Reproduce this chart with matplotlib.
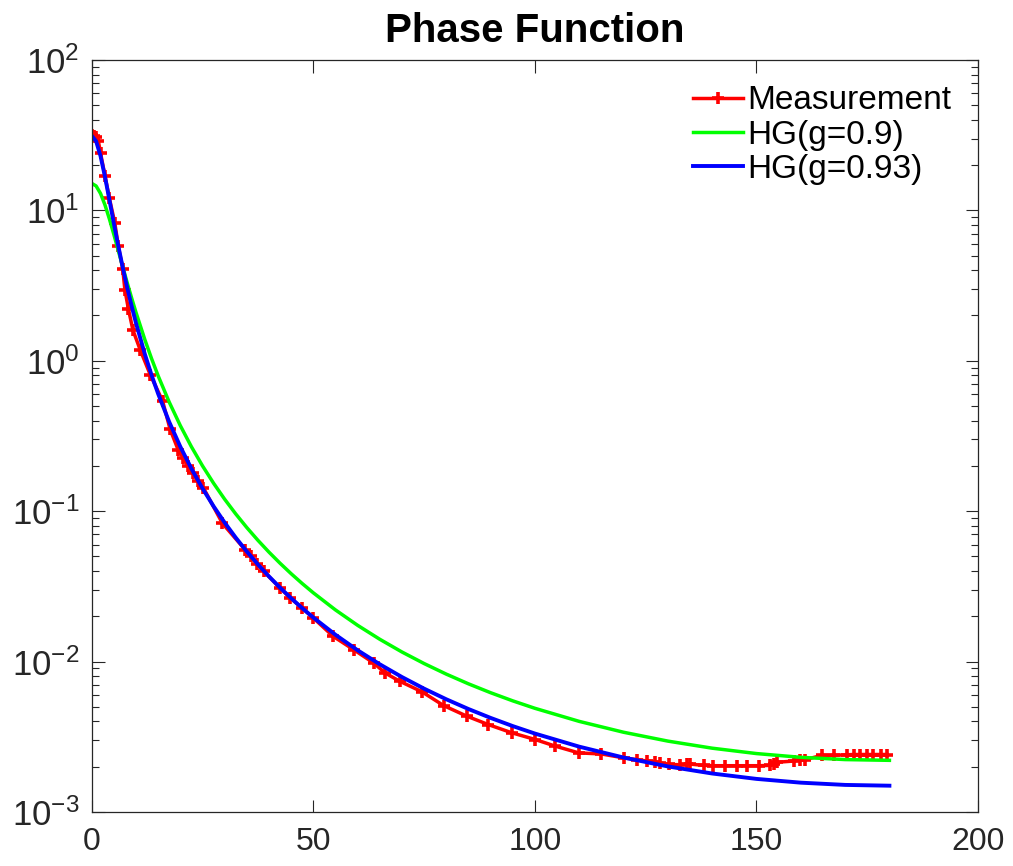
import numpy as np
import matplotlib
matplotlib.use("Agg")
import matplotlib.pyplot as plt
from matplotlib.ticker import FixedLocator, FuncFormatter, LogLocator, NullFormatter

plt.rcParams['font.family'] = ['Liberation Sans', 'DejaVu Sans']
plt.rcParams['mathtext.default'] = 'regular'

# measured phase function (angle in degrees, value)
meas_angle = [0, 0.5, 1.0, 1.5, 2.0, 3.0, 4.0, 5.2, 6.0, 7.0, 7.5, 8.3, 9.3, 11.0,
              13.2, 16.0, 17.7, 19.5, 20.7, 21.8, 22.9, 24.1, 25.2, 29.5, 34.6,
              35.9, 37.4, 38.8, 42.5, 44.8, 47.4, 50.0, 54.5, 59.1, 63.6, 66.2,
              69.5, 74.5, 79.4, 84.6, 89.5, 94.8, 100.1, 104.6, 109.9, 115.0,
              120.0, 123.0, 125.3, 127.2, 128.3, 130.2, 132.8, 134.3, 135.1,
              138.1, 140.3, 143.0, 145.6, 147.9, 150.5, 153.1, 153.9, 154.6,
              158.4, 159.9, 161.0, 164.8, 167.4, 170.4, 171.9, 173.4, 174.9,
              176.4, 178.0, 179.5]
meas_value = [31.5, 31.0, 30.5, 29.0, 24.0, 17.0, 12.0, 8.3, 5.8, 4.1, 2.95, 2.2,
              1.6, 1.17, 0.81, 0.54, 0.35, 0.256, 0.225, 0.199, 0.179, 0.158,
              0.143, 0.083, 0.0555, 0.050, 0.0447, 0.0398, 0.0309, 0.0265,
              0.0228, 0.0195, 0.0147, 0.0120, 0.0098, 0.0084, 0.0074, 0.0063,
              0.0051, 0.00434, 0.00381, 0.00336, 0.00303, 0.00274, 0.00247,
              0.00243, 0.00229, 0.00223, 0.00218, 0.00216, 0.00212, 0.00207,
              0.00206, 0.00208, 0.00208, 0.00204, 0.00203, 0.00203, 0.00203,
              0.00203, 0.00203, 0.00204, 0.00208, 0.00214, 0.00218, 0.00223,
              0.00223, 0.00238, 0.00238, 0.00240, 0.00241, 0.00241, 0.00241,
              0.00241, 0.00241, 0.00241]

# fitted HG curves
hg_angle = [0, 1, 2, 3, 4, 5, 6, 7, 8, 9, 10, 12, 13.5, 15, 17.5, 20, 22.5, 25,
            27.5, 30, 32.5, 35, 37.5, 40, 42.5, 45, 47.5, 50, 55, 60, 65, 70,
            75, 80, 85, 90, 95, 100, 110, 120, 130, 140, 150, 160, 170, 180]
hg090 = [15.12, 14.52, 12.94, 10.86, 8.764, 6.914, 5.402, 4.219, 3.312, 2.621,
         2.095, 1.380, 1.0357, 0.7936, 0.5305, 0.3704, 0.2682, 0.2002, 0.1534,
         0.1201, 0.09588, 0.0778, 0.06405, 0.05341, 0.04506, 0.0384, 0.03303,
         0.02866, 0.02205, 0.01742, 0.01407, 0.01158, 0.009703, 0.008252,
         0.007114, 0.006209, 0.005481, 0.00489, 0.004002, 0.003389, 0.002959,
         0.002655, 0.002445, 0.002308, 0.00223, 0.002204]
hg093 = [31.34, 28.81, 22.94, 16.73, 11.74, 8.202, 5.8, 4.183, 3.082, 2.319,
         1.781, 1.106, 0.805, 0.6026, 0.3917, 0.2684, 0.1918, 0.1418, 0.1078,
         0.08394, 0.06669, 0.05393, 0.04427, 0.03683, 0.03101, 0.02638,
         0.02266, 0.01963, 0.01508, 0.01189, 0.009594, 0.007893, 0.006607,
         0.005615, 0.004838, 0.004222, 0.003725, 0.003322, 0.002718, 0.002301,
         0.002008, 0.001802, 0.001659, 0.001566, 0.001513, 0.001495]

xticks = [0, 50, 100, 150, 200]
yticks = [1e-3, 1e-2, 1e-1, 1e0, 1e1, 1e2]

fig = plt.figure(figsize=(10.13, 8.66), dpi=100)
ax = fig.add_axes([0.0905, 0.0624, 0.875, 0.8684])

ax.plot(meas_angle, meas_value, color='#ff0000', lw=2.5, marker='+', ms=8,
        mew=2.6, label='Measurement')
ax.plot(hg_angle, hg090, color='#00ff00', lw=2.5, label='HG(g=0.9)')
ax.plot(hg_angle, hg093, color='#0000ff', lw=2.8, label='HG(g=0.93)')

ax.set_yscale('log')
ax.set_xlim(0, 200)
ax.set_ylim(1e-3, 1e2)
ax.xaxis.set_major_locator(FixedLocator(xticks))
ax.yaxis.set_major_locator(FixedLocator(yticks))
ax.yaxis.set_minor_locator(LogLocator(base=10, subs=np.arange(2, 10)))
ax.yaxis.set_minor_formatter(NullFormatter())
ax.yaxis.set_major_formatter(FuncFormatter(
    lambda v, p: r'$10^{%d}$' % int(round(np.log10(v)))))

edge = '#262626'
for s in ax.spines.values():
    s.set_color(edge)
    s.set_linewidth(0.9)
ax.tick_params(which='both', direction='in', top=True, right=True,
               color=edge, width=0.8)
ax.tick_params(which='major', length=9)
ax.tick_params(which='minor', length=5)
ax.tick_params(axis='x', labelsize=23, pad=11, labelcolor=edge)
ax.tick_params(axis='y', labelsize=25, pad=9, labelcolor=edge)

ax.set_title('Phase Function', fontsize=29, fontweight='bold', pad=13)

ax.legend(loc='upper left', bbox_to_anchor=(0.678, 0.966), frameon=False,
          fontsize=24, handlelength=1.5, handletextpad=0.15, labelspacing=0.1,
          borderpad=0, borderaxespad=0, numpoints=1)

fig.savefig('out.png', dpi=100)
